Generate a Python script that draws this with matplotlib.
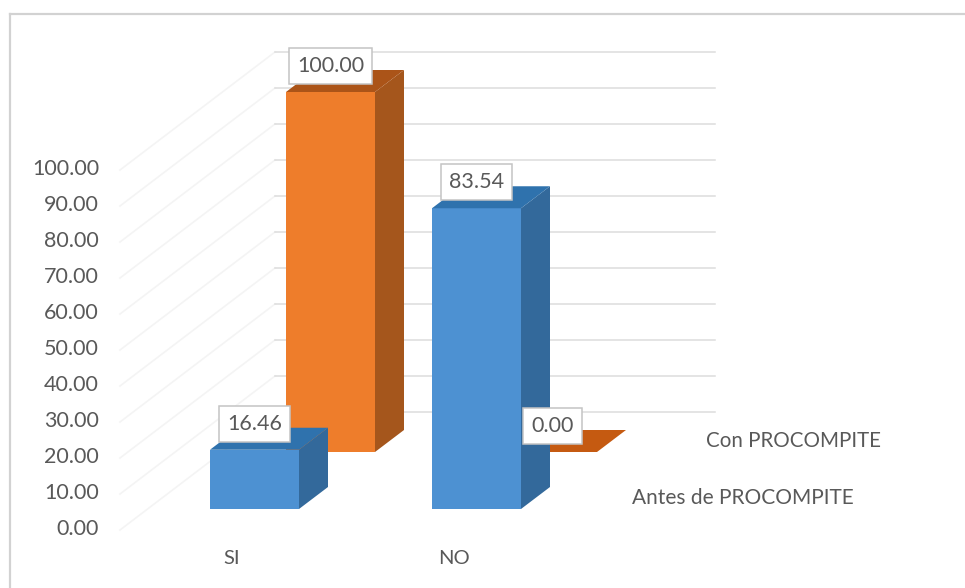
import matplotlib
matplotlib.use('Agg')
import matplotlib.pyplot as plt

# --- Dados ---
categorias = ['SI', 'NO']
series = ['Antes de PROCOMPITE', 'Con PROCOMPITE']
antes = [16.46, 83.54]
con = [100.00, 0.00]
ticks_valor = [0, 10, 20, 30, 40, 50, 60, 70, 80, 90, 100]

# --- Geometria da "perspectiva" (x em pixels, y em unidades do valor) ---
PX = 3.6                  # pixels por unidade do eixo
W, H = 965, 588
Y0 = 527                  # pixel do valor 0 no eixo
LARG = 89                 # largura da barra
PASSO_CAT = 222
X_INI = 210
BASE_FRENTE = 18 / PX     # base da serie da frente (pixel 509, acima do zero do eixo)
SERIE_DX, SERIE_DY = 76, 57 / PX
PROF_DX, PROF_DY = 29, 22 / PX
PAREDE_X0, PAREDE_X1, PAREDE_X2 = 120, 275, 715
PAREDE_DY0, PAREDE_DY1 = -3 / PX, 115 / PX

plt.rcParams['font.family'] = ['Lato', 'DejaVu Sans']
COR_TEXTO = '#595959'
TAM = 15.5

fig = plt.figure(figsize=(W / 100, H / 100), dpi=100)
ax = fig.add_axes([10 / W, 0, (W - 10) / W, (H - 14) / H])
ax.set_xlim(10, W)
ax.set_ylim((Y0 - H) / PX, (Y0 - 14) / PX)
for lado in ['right', 'bottom']:
    ax.spines[lado].set_visible(False)
for lado in ['left', 'top']:
    ax.spines[lado].set_color('#d2d2d2')
    ax.spines[lado].set_linewidth(1.6)

# Paredes com as linhas de grade
for v in ticks_valor:
    ax.plot([PAREDE_X0, PAREDE_X1], [v + PAREDE_DY0, v + PAREDE_DY1], color='#f4f4f4', lw=1.2, zorder=1)
    ax.plot([PAREDE_X1, PAREDE_X2], [v + PAREDE_DY1, v + PAREDE_DY1], color='#dcdcdc', lw=1.1, zorder=1)


def barra_3d(i, s, valor, frente, lado, topo, z):
    x = X_INI + PASSO_CAT * i + SERIE_DX * s
    base = BASE_FRENTE + SERIE_DY * s
    y = base + valor
    if valor > 0:
        ax.bar(x, valor, width=LARG, bottom=base, align='edge', color=frente, linewidth=0, zorder=z)
        ax.fill([x + LARG, x + LARG + PROF_DX, x + LARG + PROF_DX, x + LARG],
                [base, base + PROF_DY, y + PROF_DY, y], color=lado, linewidth=0, zorder=z)
    ax.fill([x, x + PROF_DX, x + LARG + PROF_DX, x + LARG],
            [y, y + PROF_DY, y + PROF_DY, y], color=topo, linewidth=0, zorder=z)
    # rotulo do valor
    ax.text(x + LARG / 2, y + 26 / PX, f'{valor:.2f}', ha='center', va='center', fontsize=TAM,
            color=COR_TEXTO, zorder=10,
            bbox=dict(boxstyle='square,pad=0.38', fc='white', ec='#c4c4c4', lw=1.1))


# Serie de tras primeiro, depois a da frente
for i, v in enumerate(con):
    barra_3d(i, 1, v, '#ee7d2b', '#a5561c', '#ab5418' if v > 0 else '#c55a11', 3)
for i, v in enumerate(antes):
    barra_3d(i, 0, v, '#4d91d2', '#33699b', '#2f72ad', 5)

# Eixos
ax.set_yticks(ticks_valor)
ax.set_yticklabels([f'{v:.2f}' for v in ticks_valor], fontsize=TAM, color=COR_TEXTO)
ax.tick_params(axis='y', length=0, pad=-89 * 0.72)
ax.set_xticks([X_INI + PASSO_CAT * i + 22 for i in range(len(categorias))])
ax.set_xticklabels(categorias, fontsize=TAM - 1, color=COR_TEXTO)
ax.tick_params(axis='x', length=0, pad=-38 * 0.72)

# Nomes das series no eixo de profundidade
ax.text(854, (Y0 - 498) / PX, series[0], ha='right', va='center', fontsize=15, color=COR_TEXTO)
ax.text(881, (Y0 - 441) / PX, series[1], ha='right', va='center', fontsize=14.8, color=COR_TEXTO)

fig.savefig('out.png', dpi=100)
